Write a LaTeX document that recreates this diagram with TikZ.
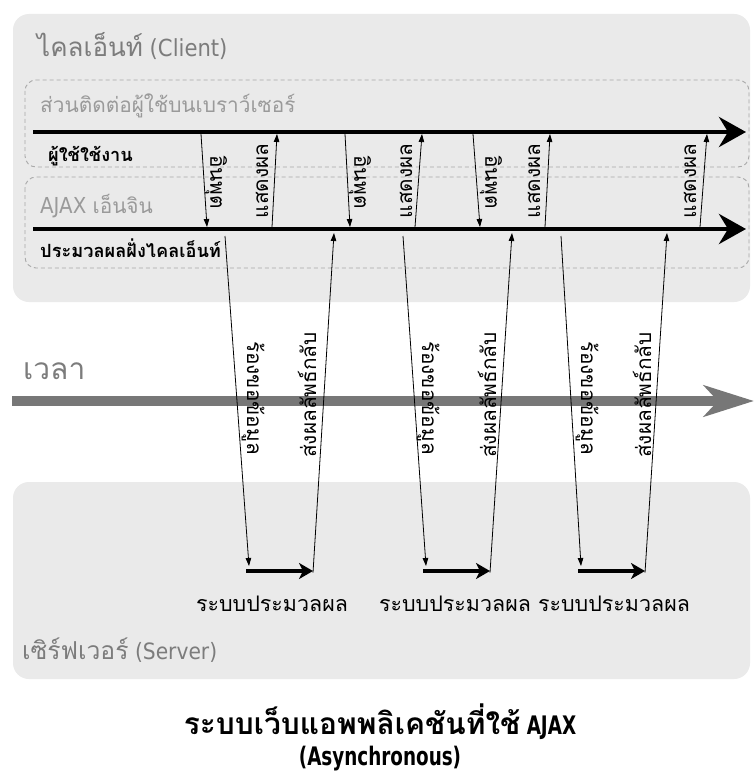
\documentclass[tikz,border=0pt]{standalone}
\usepackage{fontspec}
\setmainfont{DejaVu Sans}[FakeStretch=0.9]
\newfontfamily\capfont{DejaVu Sans}[FakeStretch=0.72]
\newfontfamily\thai[Script=Thai,Scale=1.3]{Loma}
\usetikzlibrary{arrows.meta}
\definecolor{boxgray}{HTML}{EAEAEA}
\definecolor{dashgray}{HTML}{A8A8A8}
\definecolor{txtgray}{HTML}{7C7C7C}
\definecolor{lightgray}{HTML}{9A9A9A}
\definecolor{timegray}{HTML}{777777}
\begin{document}
\begin{tikzpicture}[x=1pt,y=-1pt,
  panel/.style={fill=boxgray, draw=none, rounded corners=16pt},
  dbox/.style={draw=dashgray, dash pattern=on 4pt off 3pt, line width=0.9pt, rounded corners=11pt},
  bigarrow/.style={line width=4.5pt, -{Stealth[length=27pt,width=30pt,inset=9pt]}},
  thinarrow/.style={line width=0.8pt, -{Triangle[length=8pt,width=5.5pt]}},
  srvarrow/.style={line width=3.4pt, -{Stealth[length=14pt,width=16pt,inset=4pt]}},
  timearrow/.style={draw=timegray, line width=10pt, -{Stealth[length=50pt,width=31pt,inset=14pt]}},
  head/.style={anchor=west, inner sep=0pt, text=txtgray, font=\fontsize{23.5}{27}\selectfont},
  sub/.style={anchor=west, inner sep=0pt, text=lightgray, font=\fontsize{16}{19}\selectfont},
  tag/.style={anchor=west, inner sep=0pt, font=\bfseries\fontsize{14}{17}\selectfont},
  vdown/.style={inner sep=0pt, rotate=-90, font=\thai\fontsize{16}{18}\selectfont},
  vup/.style={inner sep=0pt, rotate=90, font=\thai\fontsize{16}{18}\selectfont},
  proc/.style={inner sep=0pt, font=\thai\fontsize{16.5}{20}\selectfont}
]
\useasboundingbox[fill=white] (0,0) rectangle (755,781);

% panels
\fill[panel] (13,14) rectangle (750,302);
\fill[panel] (13,482) rectangle (750,679);
\draw[dbox] (25,80) rectangle (749,167);
\draw[dbox] (25,177) rectangle (749,268);

% panel texts
\node[head] (client) at (37,46) {{\thai\fontsize{20}{24}\selectfont ไคลเอ็นท์} (Client)};
\node[sub] (ui) at (40,106) {\thai ส่วนติดต่อผู้ใช้บนเบราว์เซอร์};
\node[tag] (user) at (48,156) {\thai ผู้ใช้ใช้งาน};
\node[sub, font=\fontsize{22}{25}\selectfont] (engine) at (40,206) {AJAX {\thai\fontsize{16}{19}\selectfont เอ็นจิน}};
\node[tag] (cproc) at (40,248) {\thai ประมวลผลฝั่งไคลเอ็นท์};
\node[head, font=\thai\fontsize{23}{27}\selectfont] (time) at (23,371) {เวลา};
\node[head, font=\fontsize{22.5}{26}\selectfont] (server) at (22,650) {{\thai\fontsize{19}{23}\selectfont เซิร์ฟเวอร์} (Server)};

% main timelines
\coordinate (l1a) at (33,132); \coordinate (l1b) at (746,132);
\coordinate (l2a) at (33,229); \coordinate (l2b) at (746,229);
\coordinate (ta) at (12,401); \coordinate (tb) at (754,401);
\draw[bigarrow] (l1a) -- (l1b);
\draw[bigarrow] (l2a) -- (l2b);
\draw[timearrow] (ta) -- (tb);

% input / display arrows
\coordinate (i1a) at (201,134); \coordinate (i1b) at (207,227);
\coordinate (i2a) at (345,134); \coordinate (i2b) at (350,227);
\coordinate (i3a) at (473,134); \coordinate (i3b) at (480,227);
\coordinate (d1a) at (272,227); \coordinate (d1b) at (277,134);
\coordinate (d2a) at (415,227); \coordinate (d2b) at (422,134);
\coordinate (d3a) at (545,227); \coordinate (d3b) at (550,134);
\coordinate (d4a) at (700,227); \coordinate (d4b) at (707,134);
\foreach \n in {i1,i2,i3,d1,d2,d3,d4} {\draw[thinarrow] (\n a) -- (\n b);}
\node[vdown] (li1) at (216,182) {อินพุต};
\node[vdown] (li2) at (360,182) {อินพุต};
\node[vdown] (li3) at (491,182) {อินพุต};
\node[vup] (ld1) at (262,181) {แสดงผล};
\node[vup] (ld2) at (406,181) {แสดงผล};
\node[vup] (ld3) at (534,181) {แสดงผล};
\node[vup] (ld4) at (690,181) {แสดงผล};

% client-server exchanges
\coordinate (q1t) at (225,236); \coordinate (q1b) at (249,566);
\coordinate (s1a) at (246,571); \coordinate (s1b) at (313,571);
\coordinate (r1t) at (334,233);
\coordinate (q2t) at (403,236); \coordinate (q2b) at (426,566);
\coordinate (s2a) at (423,571); \coordinate (s2b) at (490,571);
\coordinate (r2t) at (512,233);
\coordinate (q3t) at (561,236); \coordinate (q3b) at (581,566);
\coordinate (s3a) at (578,571); \coordinate (s3b) at (645,571);
\coordinate (r3t) at (667,233);
\foreach \n in {1,2,3} {
  \draw[thinarrow] (q\n t) -- (q\n b);
  \draw[srvarrow] (s\n a) -- (s\n b);
  \draw[thinarrow] ([yshift=-1.7pt]s\n b) -- (r\n t);
}
\node[vdown] (lq1) at (253,398) {ร้องขอข้อมูล};
\node[vdown] (lq2) at (428,398) {ร้องขอข้อมูล};
\node[vdown] (lq3) at (587,398) {ร้องขอข้อมูล};
\node[vup] (lr1) at (307,395) {ส่งผลลัพธ์กลับ};
\node[vup] (lr2) at (487,395) {ส่งผลลัพธ์กลับ};
\node[vup] (lr3) at (642,395) {ส่งผลลัพธ์กลับ};

\node[proc] (p1) at (272,604) {ระบบประมวลผล};
\node[proc] (p2) at (455,604) {ระบบประมวลผล};
\node[proc] (p3) at (614,604) {ระบบประมวลผล};

% caption
\node[inner sep=0pt, align=center, font=\capfont\bfseries\fontsize{25.5}{31}\selectfont] (caption) at (380,737)
  {{\thai\fontsize{23}{31}\selectfont ระบบเว็บแอพพลิเคชันที่ใช้} AJAX\\(Asynchronous)};
\end{tikzpicture}
\end{document}
